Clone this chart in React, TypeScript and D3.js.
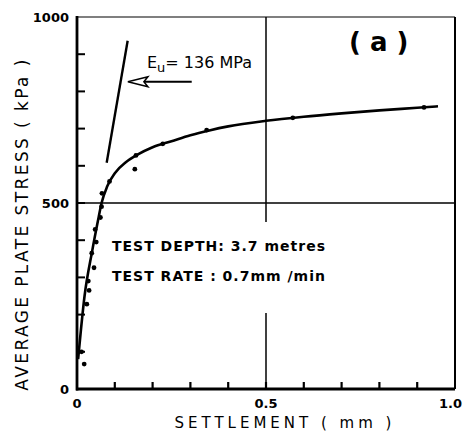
import React from "react";
import * as d3 from "d3";

// measured points: settlement (mm), stress (kPa)
const settlement = [0.019, 0.012, 0.026, 0.032, 0.03, 0.045, 0.039, 0.051, 0.048, 0.062, 0.065, 0.066, 0.086, 0.156, 0.153, 0.227, 0.343, 0.571, 0.918];
const stress = [67, 100, 228, 265, 290, 326, 365, 395, 429, 461, 490, 526, 558, 628, 591, 659, 696, 729, 757];

// fitted curve drawn through the points
const curveS = [0.003, 0.02, 0.04, 0.055, 0.065, 0.08, 0.1, 0.13, 0.16, 0.2, 0.25, 0.3, 0.35, 0.4, 0.5, 0.6, 0.7, 0.8, 0.9, 0.955];
const curveP = [80, 250, 370, 450, 500, 545, 580, 610, 630, 650, 666, 682, 695, 706, 721, 732, 741, 749, 756, 760];

// initial tangent modulus line and its arrow
const eLineS = [0.0785, 0.134];
const eLineP = [608, 936];
const arrowS = [0.3035, 0.1346];
const arrowP = 826;

// the 0.5 mm line is broken behind the text block
const gapP = [449, 204];

const xTicks = [0, 0.5, 1.0];
const xTickLabels = ["0", "0.5", "1.0"];
const yTicks = [0, 500, 1000];
const minorX = d3.range(1, 10).map((i) => i / 10);
const minorY = d3.range(1, 10).map((i) => i * 100);

const W = 463;
const H = 440;
const m = { left: 77, right: 8, top: 17, bottom: 51 };

export default function App() {
  const x = d3.scaleLinear().domain([0, 1]).range([m.left, W - m.right]);
  const y = d3.scaleLinear().domain([0, 1000]).range([H - m.bottom, m.top]);
  const fit = d3
    .line<number>()
    .x((_, i) => x(curveS[i]))
    .y((d) => y(d))
    .curve(d3.curveMonotoneX);
  const font = "'DejaVu Sans', sans-serif";
  const x0 = x(0), x1 = x(1), y0 = y(0), y1 = y(1000);
  const ax = x(arrowS[1]);
  const ay = y(arrowP);

  return (
    <svg width={W} height={H} style={{ position: "absolute", left: 0, top: 0, background: "#fff" }}>
      {/* frame */}
      <line x1={x0} x2={x1} y1={y1} y2={y1} stroke="#000" strokeWidth={1.2} />
      <line x1={x1} x2={x1} y1={y1} y2={y0} stroke="#000" strokeWidth={2} />
      <line x1={x0} x2={x0} y1={y1 - 1} y2={y0 + 1.5} stroke="#000" strokeWidth={2.8} />
      <line x1={x0 - 1} x2={x1} y1={y0} y2={y0} stroke="#000" strokeWidth={2.8} />
      {/* reference lines */}
      <line x1={x0} x2={x1} y1={y(500)} y2={y(500)} stroke="#000" strokeWidth={1.5} />
      <line x1={x(0.5)} x2={x(0.5)} y1={y1} y2={y(gapP[0])} stroke="#000" strokeWidth={1.5} />
      <line x1={x(0.5)} x2={x(0.5)} y1={y(gapP[1])} y2={y0} stroke="#000" strokeWidth={1.5} />
      {/* minor ticks */}
      {minorX.map((t) => (
        <line key={"mx" + t} x1={x(t)} x2={x(t)} y1={y0} y2={y0 - 7} stroke="#000" strokeWidth={2.2} />
      ))}
      {minorY.map((t) => (
        <line key={"my" + t} x1={x0} x2={x0 + 8} y1={y(t)} y2={y(t)} stroke="#000" strokeWidth={2} />
      ))}
      {/* tick labels */}
      {yTicks.map((t) => (
        <text key={"yt" + t} x={x0 - 8} y={y(t) + 5} textAnchor="end" fontFamily={font} fontWeight="bold" fontSize={13}>
          {t}
        </text>
      ))}
      {xTicks.map((t, i) => (
        <text
          key={"xt" + t}
          x={i === 2 ? W - 1 : x(t)}
          y={y0 + 19}
          textAnchor={i === 2 ? "end" : "middle"}
          fontFamily={font}
          fontWeight="bold"
          fontSize={13}
        >
          {xTickLabels[i]}
        </text>
      ))}
      {/* axis titles */}
      <text x={285} y={428} textAnchor="middle" fontFamily={font} fontSize={15} letterSpacing={4}>
        SETTLEMENT ( mm )
      </text>
      <text
        transform="translate(28,224) rotate(-90)"
        textAnchor="middle"
        fontFamily={font}
        fontSize={17}
        letterSpacing={2.4}
      >
        AVERAGE PLATE STRESS ( kPa )
      </text>
      {/* fitted curve */}
      <path d={fit(curveP) ?? ""} fill="none" stroke="#000" strokeWidth={2.6} />
      {/* points */}
      {settlement.map((s, i) => (
        <circle key={"p" + i} cx={x(s)} cy={y(stress[i])} r={2.4} fill="#000" />
      ))}
      {/* modulus line */}
      <line x1={x(eLineS[0])} x2={x(eLineS[1])} y1={y(eLineP[0])} y2={y(eLineP[1])} stroke="#000" strokeWidth={2.4} />
      <line x1={x(arrowS[0])} x2={ax + 4} y1={ay} y2={ay} stroke="#000" strokeWidth={1.8} />
      <path d={`M${ax},${ay} L${ax + 20},${ay - 5} L${ax + 16},${ay} L${ax + 20},${ay + 5} Z`} fill="#fff" stroke="#000" strokeWidth={1.5} />
      <text x={147} y={68} fontFamily={font} fontSize={16}>
        E
        <tspan fontSize={13} dy={4}>u</tspan>
        <tspan dy={-4}>= 136 MPa</tspan>
      </text>
      <text x={349} y={51} fontFamily={font} fontWeight="bold" fontSize={26}>
        ( a )
      </text>
      {/* test info */}
      <text x={112} y={251} fontFamily={font} fontSize={14} fontWeight="bold" letterSpacing={1}>
        TEST DEPTH: 3.7 metres
      </text>
      <text x={112} y={281} fontFamily={font} fontSize={14} fontWeight="bold" letterSpacing={1}>
        TEST RATE : 0.7mm /min
      </text>
    </svg>
  );
}
